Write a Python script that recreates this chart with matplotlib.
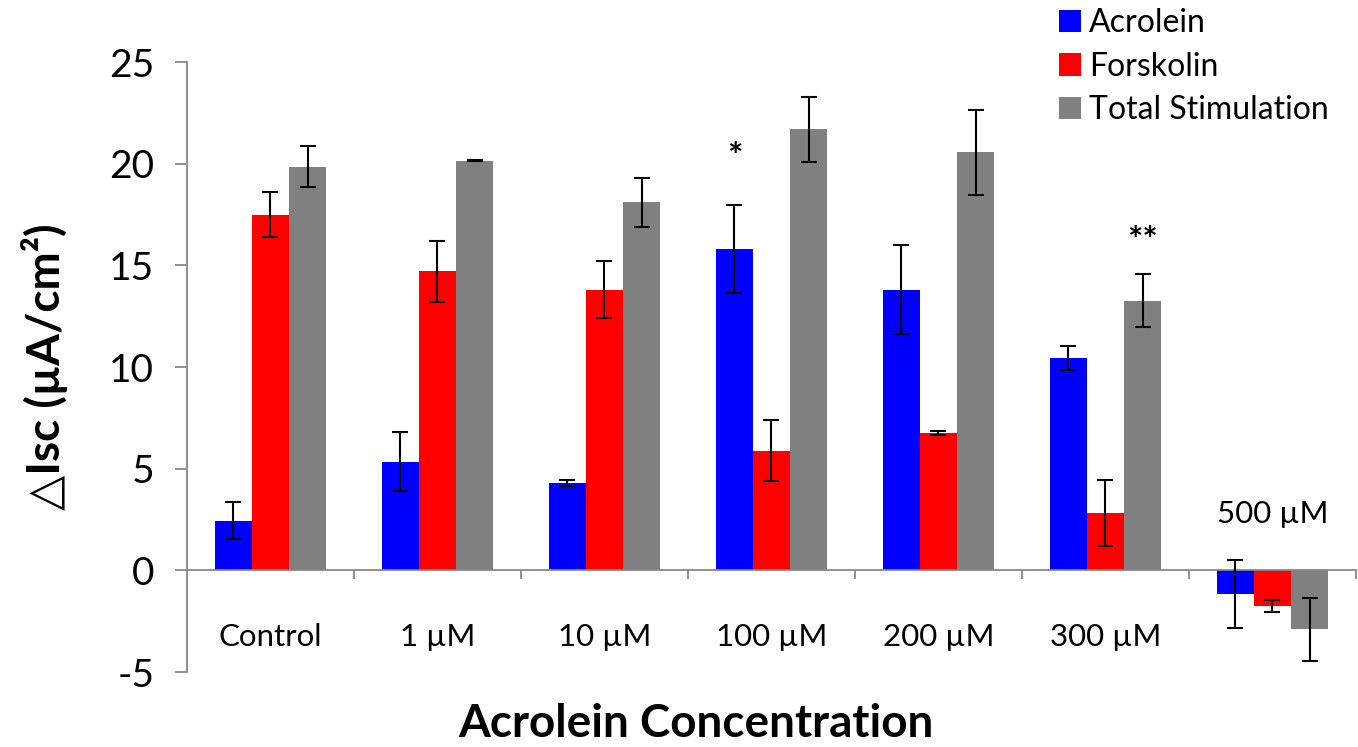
import numpy as np
import matplotlib
matplotlib.use('Agg')
import matplotlib.pyplot as plt

plt.rcParams['font.family'] = ['Lato', 'DejaVu Sans']
plt.rcParams['axes.unicode_minus'] = False

# values
categories = ['Control', '1 µM', '10 µM', '100 µM', '200 µM', '300 µM', '500 µM']
acrolein = [2.45, 5.35, 4.31, 15.8, 13.8, 10.45, -1.15]
acrolein_err = [0.9, 1.45, 0.15, 2.15, 2.2, 0.6, 1.68]
forskolin = [17.5, 14.7, 13.8, 5.87, 6.77, 2.82, -1.75]
forskolin_err = [1.1, 1.5, 1.4, 1.5, 0.1, 1.6, 0.28]
total = [19.85, 20.15, 18.1, 21.7, 20.55, 13.27, -2.9]
total_err = [1.0, 0.02, 1.2, 1.6, 2.1, 1.3, 1.55]
series_names = ['Acrolein', 'Forskolin', 'Total Stimulation']
colors = ['#0000FF', '#FF0000', '#808080']

fig = plt.figure(figsize=(13.58, 7.47), dpi=100)
ax = fig.add_axes([0.1377, 0.1004, 0.8608, 0.8166])

x = np.arange(len(categories))
w = 0.222
data = [(acrolein, acrolein_err), (forskolin, forskolin_err), (total, total_err)]
for k, (vals, errs) in enumerate(data):
    pos = x + (k - 1) * w
    ax.bar(pos, vals, width=w, color=colors[k], label=series_names[k], zorder=2)
    ax.errorbar(pos, vals, yerr=errs, fmt='none', ecolor='black',
                elinewidth=1.5, capsize=6, capthick=1.5, zorder=3)

ax.set_xlim(-0.5, 6.5)
ax.set_ylim(-5, 25)
ax.set_yticks(np.arange(-5, 26, 5))

for s in ['top', 'right']:
    ax.spines[s].set_visible(False)
ax.spines['left'].set_color('#888888')
ax.spines['bottom'].set_color('#888888')
ax.spines['left'].set_linewidth(1.3)
ax.spines['bottom'].set_linewidth(1.3)
ax.spines['bottom'].set_position(('data', 0))

ax.tick_params(axis='y', direction='out', length=8.6, width=1.3, color='#888888',
               labelsize=28, pad=15)
ax.set_xticks(x)
ax.set_xticklabels(categories[:-1] + [''])
ax.tick_params(axis='x', which='major', length=0, labelsize=22.5, pad=38)
ax.set_xticks(np.arange(0.5, 7, 1), minor=True)
ax.tick_params(axis='x', which='minor', direction='out', length=6.5, width=1.3,
               color='#888888')

ax.text(6, 2.75, categories[-1], ha='center', va='center', fontsize=22.5)

ax.text(3 - w, 20.3, '*', ha='center', va='center', fontsize=26, fontweight='bold')
ax.text(5 + w, 16.15, '**', ha='center', va='center', fontsize=26, fontweight='bold')

ax.set_ylabel('\u25b3Isc (µA/cm²)', fontsize=33, fontweight='bold')
ax.yaxis.set_label_coords(-0.1215, 0.5)
ax.yaxis.label.set_va('center')
ax.set_xlabel('Acrolein Concentration', fontsize=33, fontweight='bold')
ax.xaxis.set_label_coords(0.4354, -0.086)
ax.xaxis.label.set_va('center')

fig.legend(loc='upper left', bbox_to_anchor=(1059 / 1358, 1 - 8 / 747),
           frameon=False, fontsize=23, handlelength=0.7, handleheight=0.7,
           handletextpad=0.25, labelspacing=0.43, borderpad=0, borderaxespad=0)

fig.savefig('out.png', dpi=100)
